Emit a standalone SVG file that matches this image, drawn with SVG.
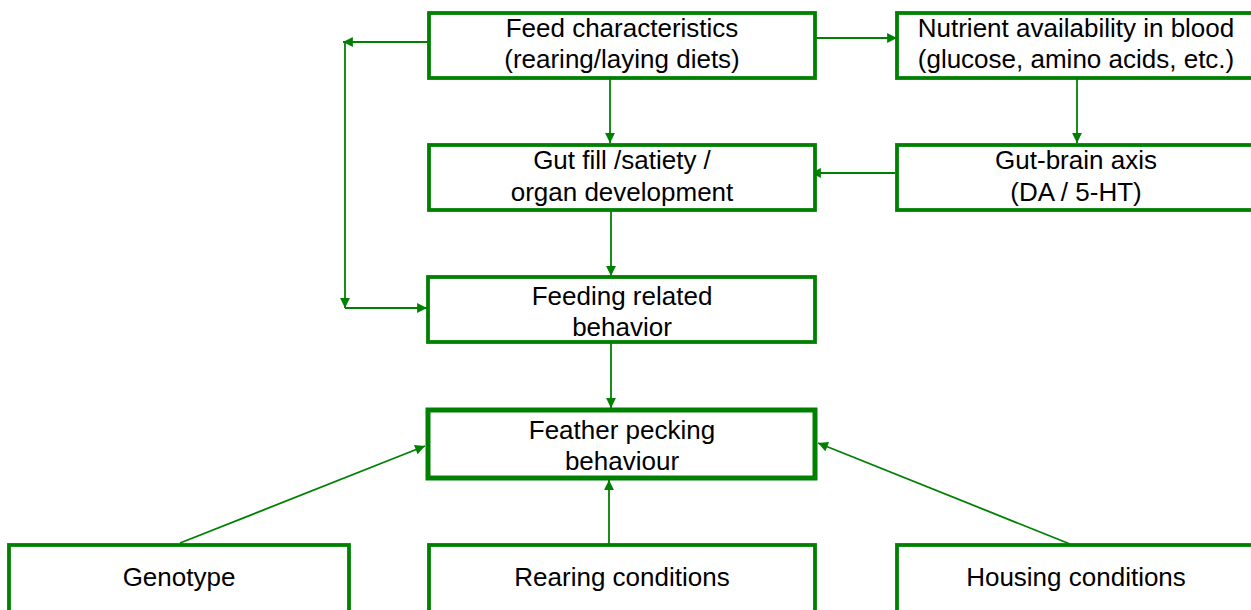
<svg xmlns="http://www.w3.org/2000/svg" width="1251" height="610" viewBox="0 0 1251 610">
<style>
.box{fill:#fff;stroke:#008000;stroke-width:3.8}
.thick{stroke-width:5}
.c{fill:none;stroke:#008000;stroke-width:1.8}
.a{marker-end:url(#ah)}
text{font-family:"Liberation Sans",Arial,sans-serif;font-size:26px;fill:#000;text-anchor:middle}
</style>
<defs>
<marker id="ah" viewBox="0 0 10 10" refX="10" refY="5" markerWidth="6" markerHeight="5.5" markerUnits="strokeWidth" orient="auto">
<path d="M0,0 L10,5 L0,10 z" fill="#008000"/>
</marker>
</defs>
<rect width="1251" height="610" fill="#fff"/>
<g id="connectors">
<line class="c a" x1="428" y1="42" x2="343" y2="42"/>
<line class="c a" x1="345" y1="42" x2="345" y2="308"/>
<line class="c a" x1="345" y1="308" x2="427" y2="308"/>
<line class="c a" x1="816" y1="38" x2="897" y2="38"/>
<line class="c a" x1="610" y1="79" x2="610" y2="143"/>
<line class="c a" x1="1077" y1="79" x2="1077" y2="143"/>
<line class="c a" x1="895" y1="173" x2="811" y2="173"/>
<line class="c a" x1="611" y1="211" x2="611" y2="276"/>
<line class="c a" x1="611" y1="343" x2="611" y2="408"/>
<line class="c a" x1="609" y1="545" x2="609" y2="480"/>
<line class="c a" x1="180" y1="543" x2="425" y2="446"/>
<line class="c a" x1="1070" y1="544" x2="818" y2="443"/>
</g>
<g id="feed">
<rect class="box" x="429" y="13" width="386" height="65"/>
<text x="622" y="37">Feed characteristics</text>
<text x="622" y="68">(rearing/laying diets)</text>
</g>
<g id="nutrient">
<rect class="box" x="897" y="13" width="360" height="65"/>
<text x="1076" y="37">Nutrient availability in blood</text>
<text x="1076" y="68">(glucose, amino acids, etc.)</text>
</g>
<g id="gutfill">
<rect class="box" x="429" y="145" width="386" height="65"/>
<text x="622" y="169">Gut fill /satiety /</text>
<text x="622" y="201">organ development</text>
</g>
<g id="gutbrain">
<rect class="box" x="897" y="145" width="360" height="65"/>
<text x="1076" y="169">Gut-brain axis</text>
<text x="1076" y="201">(DA / 5-HT)</text>
</g>
<g id="feeding">
<rect class="box" x="428" y="277" width="387" height="65"/>
<text x="622" y="305">Feeding related</text>
<text x="622" y="336">behavior</text>
</g>
<g id="feather">
<rect class="box thick" x="428" y="410" width="387" height="68"/>
<text x="622" y="439">Feather pecking</text>
<text x="622" y="470">behaviour</text>
</g>
<g id="genotype">
<rect class="box" x="9" y="545" width="340" height="80"/>
<text x="179" y="586">Genotype</text>
</g>
<g id="rearing">
<rect class="box" x="429" y="545" width="386" height="80"/>
<text x="622" y="586">Rearing conditions</text>
</g>
<g id="housing">
<rect class="box" x="897" y="545" width="360" height="80"/>
<text x="1076" y="586">Housing conditions</text>
</g>
</svg>
